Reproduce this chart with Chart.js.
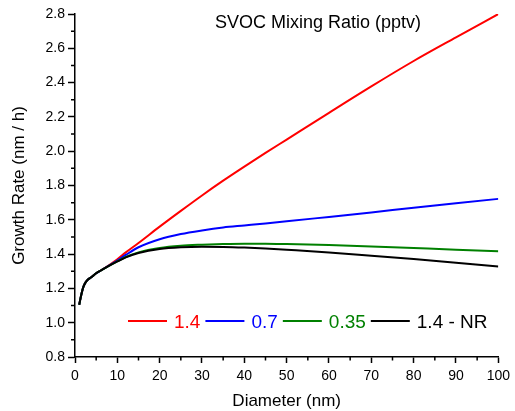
<!DOCTYPE html>
<html>
<head>
<meta charset="utf-8">
<script src="https://cdn.jsdelivr.net/npm/chart.js@4"></script>
<style>
html,body{margin:0;padding:0;background:#fff;}
#wrap{width:515px;height:411px;}
</style>
</head>
<body>
<div id="wrap"><canvas id="c" width="515" height="411"></canvas></div>
<script>
// Data
const diameters = [1, 1.5, 2, 2.5, 3, 4, 5, 6, 8, 10, 12, 15, 20, 25, 30, 35, 40, 45, 50, 60, 70, 80, 90, 100];
const growth14   = [1.105, 1.165, 1.21, 1.235, 1.25, 1.268, 1.288, 1.303, 1.335, 1.37, 1.41, 1.465, 1.56, 1.652, 1.742, 1.828, 1.91, 1.99, 2.068, 2.224, 2.378, 2.526, 2.664, 2.80];
const growth07   = [1.105, 1.165, 1.21, 1.235, 1.25, 1.268, 1.288, 1.303, 1.333, 1.362, 1.395, 1.44, 1.487, 1.517, 1.538, 1.555, 1.567, 1.579, 1.591, 1.617, 1.643, 1.670, 1.696, 1.722];
const growth035  = [1.105, 1.165, 1.21, 1.235, 1.25, 1.268, 1.288, 1.303, 1.332, 1.358, 1.383, 1.41, 1.436, 1.449, 1.455, 1.459, 1.461, 1.461, 1.459, 1.453, 1.444, 1.435, 1.426, 1.416];
const growth14NR = [1.105, 1.165, 1.21, 1.235, 1.25, 1.268, 1.288, 1.303, 1.332, 1.357, 1.381, 1.406, 1.43, 1.44, 1.443, 1.442, 1.438, 1.432, 1.425, 1.41, 1.391, 1.371, 1.350, 1.327];
const seriesLabels = ['1.4', '0.7', '0.35', '1.4 - NR'];
const seriesColors = ['#ff0000', '#0000ff', '#008000', '#000000'];
const xTicks = [0, 10, 20, 30, 40, 50, 60, 70, 80, 90, 100];
const yTicks = [0.8, 1.0, 1.2, 1.4, 1.6, 1.8, 2.0, 2.2, 2.4, 2.6, 2.8];
const chartTitle = 'SVOC Mixing Ratio (pptv)';
const xTitle = 'Diameter (nm)';
const yTitle = 'Growth Rate (nm / h)';

const FONT = '"Liberation Sans", Arial, sans-serif';
const allSeries = [growth14, growth07, growth035, growth14NR];

const datasets = allSeries.map((vals, i) => ({
  label: seriesLabels[i],
  data: diameters.map((d, j) => ({x: d, y: vals[j]})),
  borderColor: seriesColors[i],
  backgroundColor: seriesColors[i],
  borderWidth: 2,
  pointRadius: 0,
  cubicInterpolationMode: 'monotone',
  showLine: true,
  fill: false,
  order: 4 - i
}));

const extras = {
  id: 'extras',
  afterDraw(chart) {
    const ctx = chart.ctx;
    const xs = chart.scales.x, ys = chart.scales.y;
    const area = chart.chartArea;
    ctx.save();
    // minor ticks
    ctx.strokeStyle = '#000';
    ctx.lineWidth = 1.5;
    ctx.beginPath();
    for (let i = 0; i < xTicks.length - 1; i++) {
      const px = xs.getPixelForValue((xTicks[i] + xTicks[i + 1]) / 2);
      ctx.moveTo(px, area.bottom);
      ctx.lineTo(px, area.bottom + 3.5);
    }
    for (let i = 0; i < yTicks.length - 1; i++) {
      const py = ys.getPixelForValue((yTicks[i] + yTicks[i + 1]) / 2);
      ctx.moveTo(area.left - 4, py);
      ctx.lineTo(area.left, py);
    }
    ctx.stroke();
    // title inside plot
    ctx.fillStyle = '#000';
    ctx.font = '18px ' + FONT;
    ctx.textAlign = 'center';
    ctx.textBaseline = 'alphabetic';
    ctx.fillText(chartTitle, 318, 28);
    // legend inside plot
    ctx.font = '19px ' + FONT;
    ctx.textAlign = 'left';
    let x = 128;
    const yLine = 321, yText = 328;
    seriesLabels.forEach((lab, i) => {
      ctx.strokeStyle = seriesColors[i];
      ctx.lineWidth = 2;
      ctx.beginPath();
      ctx.moveTo(x, yLine);
      ctx.lineTo(x + 39, yLine);
      ctx.stroke();
      x += 39 + 7;
      ctx.fillStyle = seriesColors[i];
      ctx.fillText(lab, x, yText);
      x += ctx.measureText(lab).width + 5;
    });
    ctx.restore();
  }
};

new Chart(document.getElementById('c'), {
  type: 'scatter',
  data: {datasets},
  options: {
    responsive: false,
    animation: false,
    events: [],
    layout: {padding: {top: 14, right: 15, left: 0, bottom: 0}},
    plugins: {legend: {display: false}, title: {display: false}, tooltip: {enabled: false}},
    scales: {
      x: {
        type: 'linear', min: 0, max: 100,
        afterBuildTicks: s => { s.ticks = xTicks.map(v => ({value: v})); },
        ticks: {color: '#000', font: {family: FONT, size: 14}, padding: 5, maxRotation: 0,
          callback: v => String(v)},
        border: {display: true, color: '#000', width: 1.5},
        grid: {drawOnChartArea: false, drawTicks: true, tickLength: 6, tickColor: '#000', tickWidth: 1.5},
        title: {display: true, text: xTitle, color: '#000', font: {family: FONT, size: 17, lineHeight: 1}, padding: {top: 0, bottom: 1}},
        afterFit: s => { s.height = 54; }
      },
      y: {
        type: 'linear', min: 0.8, max: 2.8,
        afterBuildTicks: s => { s.ticks = yTicks.map(v => ({value: v})); },
        ticks: {color: '#000', font: {family: FONT, size: 14}, padding: 3,
          callback: v => Number(v).toFixed(1)},
        border: {display: true, color: '#000', width: 1.5},
        grid: {drawOnChartArea: false, drawTicks: true, tickLength: 7, tickColor: '#000', tickWidth: 1.5},
        title: {display: true, text: yTitle, color: '#000', font: {family: FONT, size: 17, lineHeight: 1}, padding: {top: 11, bottom: 0}},
        afterFit: s => { s.width = 75; }
      }
    }
  },
  plugins: [extras]
});
</script>
</body>
</html>
